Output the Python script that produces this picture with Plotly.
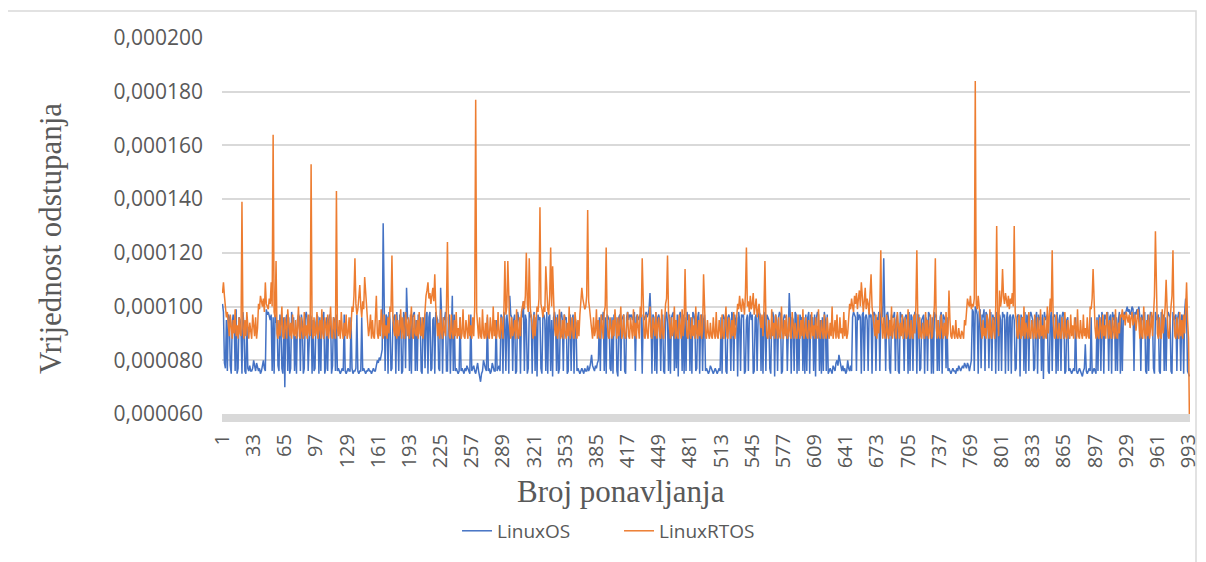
import plotly.graph_objects as go

# ---------------- data (values in microseconds) ----------------
linux_os_001 = [101, 98, 79, 77, 95, 76, 97, 96, 78, 75,
                94, 97, 95, 76, 99, 75, 77, 96, 95, 91,
                75, 98, 93, 76, 75, 96, 77, 76, 78, 76,
                76, 77, 80, 78, 76, 79, 77, 76, 77, 75,
                76, 78, 80, 77, 76, 99, 97, 98, 96, 95,
                97, 76, 96, 75, 97, 94, 95, 78, 76, 97,
                92, 77, 75, 96, 70, 95, 97, 76, 96, 75,
                77, 98, 95, 96, 76, 89, 75, 95, 97, 96,
                76, 97, 94, 75, 77, 96, 98, 95, 76, 93,
                97, 96, 75, 95, 76, 77, 94, 97, 96, 75]
linux_os_101 = [96, 76, 97, 95, 98, 75, 77, 96, 76, 95,
                97, 96, 75, 78, 96, 95, 76, 97, 76, 77,
                76, 75, 76, 77, 76, 97, 76, 75, 76, 77,
                76, 76, 96, 77, 75, 76, 76, 77, 97, 76,
                75, 76, 76, 96, 76, 77, 76, 75, 76, 76,
                77, 76, 76, 75, 76, 77, 76, 76, 78, 80,
                79, 81, 80, 82, 84, 131, 92, 76, 97, 96,
                75, 98, 95, 76, 77, 94, 96, 97, 75, 98,
                91, 76, 97, 96, 75, 76, 98, 96, 77, 107,
                96, 95, 76, 97, 75, 96, 97, 98, 76, 95]
linux_os_201 = [76, 97, 95, 96, 76, 75, 96, 94, 77, 97,
                98, 75, 96, 98, 76, 77, 95, 96, 75, 98,
                96, 95, 77, 76, 107, 97, 75, 96, 95, 98,
                76, 76, 96, 97, 75, 95, 104, 76, 97, 76,
                77, 76, 75, 76, 96, 76, 77, 76, 75, 77,
                76, 78, 77, 76, 75, 97, 76, 77, 78, 76,
                75, 77, 79, 76, 74, 72, 75, 76, 80, 78,
                77, 76, 96, 76, 77, 75, 76, 79, 77, 76,
                76, 95, 76, 77, 78, 76, 97, 96, 75, 98,
                95, 76, 97, 93, 75, 104, 97, 96, 76, 95]
linux_os_301 = [97, 75, 76, 98, 96, 94, 75, 97, 96, 102,
                76, 97, 95, 75, 77, 98, 96, 97, 75, 95,
                98, 76, 96, 74, 97, 95, 96, 77, 75, 96,
                97, 95, 76, 98, 75, 96, 97, 76, 95, 74,
                96, 98, 95, 76, 97, 75, 77, 96, 98, 95,
                76, 97, 95, 96, 75, 76, 96, 97, 76, 95,
                97, 75, 96, 94, 76, 77, 76, 75, 76, 77,
                76, 75, 77, 76, 76, 78, 76, 77, 79, 82,
                78, 77, 76, 78, 77, 79, 80, 96, 76, 97,
                95, 98, 76, 96, 75, 97, 96, 95, 77, 76]
linux_os_401 = [96, 75, 97, 95, 96, 76, 74, 96, 97, 76,
                95, 96, 97, 76, 75, 96, 98, 95, 97, 96,
                97, 95, 96, 98, 76, 96, 97, 95, 96, 97,
                96, 75, 97, 95, 96, 98, 96, 97, 99, 105,
                96, 75, 97, 96, 76, 98, 75, 96, 97, 95,
                76, 95, 97, 76, 75, 96, 98, 94, 76, 97,
                75, 96, 97, 98, 76, 95, 77, 97, 74, 96,
                98, 95, 76, 97, 75, 96, 76, 98, 95, 97,
                76, 96, 75, 98, 97, 95, 76, 77, 96, 98,
                75, 96, 97, 76, 95, 97, 76, 77, 76, 75]
linux_os_501 = [76, 78, 77, 76, 75, 76, 77, 76, 75, 76,
                77, 76, 96, 75, 97, 96, 95, 76, 75, 96,
                97, 95, 76, 98, 96, 76, 97, 93, 96, 74,
                98, 95, 76, 97, 96, 97, 75, 76, 95, 97,
                76, 96, 98, 95, 97, 75, 76, 96, 97, 76,
                95, 98, 97, 76, 96, 75, 95, 98, 76, 97,
                96, 95, 77, 75, 96, 98, 96, 74, 97, 95,
                76, 96, 98, 97, 75, 76, 95, 97, 96, 96,
                76, 98, 105, 97, 75, 96, 95, 76, 98, 97,
                75, 96, 76, 97, 95, 96, 76, 96, 75, 97]
linux_os_601 = [76, 96, 98, 75, 97, 95, 96, 76, 97, 74,
                96, 98, 97, 76, 95, 75, 96, 76, 98, 95,
                76, 97, 75, 76, 77, 76, 75, 78, 77, 76,
                79, 80, 78, 82, 80, 77, 76, 78, 76, 77,
                75, 76, 80, 77, 76, 78, 76, 96, 98, 97,
                96, 76, 98, 95, 97, 96, 75, 97, 98, 76,
                96, 97, 95, 76, 98, 96, 97, 75, 96, 98,
                97, 76, 96, 95, 98, 76, 97, 100, 96, 118,
                96, 76, 97, 98, 95, 77, 75, 97, 96, 96,
                98, 76, 95, 97, 76, 75, 98, 96, 97, 95]
linux_os_701 = [76, 96, 97, 95, 75, 98, 76, 97, 96, 76,
                95, 98, 97, 75, 96, 97, 76, 77, 95, 96,
                97, 75, 96, 95, 76, 98, 97, 96, 75, 96,
                75, 98, 96, 97, 76, 95, 76, 96, 98, 75,
                97, 96, 95, 77, 96, 76, 77, 76, 75, 76,
                77, 76, 76, 75, 77, 76, 78, 77, 76, 77,
                78, 77, 79, 78, 77, 79, 78, 76, 78, 80,
                99, 98, 76, 100, 99, 97, 75, 98, 99, 77,
                97, 96, 99, 76, 98, 97, 95, 77, 96, 98,
                76, 97, 95, 96, 75, 98, 96, 76, 97, 95]
linux_os_801 = [76, 98, 96, 97, 75, 95, 98, 76, 96, 97,
                75, 96, 97, 95, 76, 77, 96, 97, 96, 74,
                97, 95, 96, 76, 98, 75, 97, 95, 76, 96,
                98, 96, 95, 76, 77, 96, 98, 75, 97, 95,
                96, 76, 97, 73, 98, 95, 96, 97, 76, 75,
                95, 98, 76, 96, 97, 96, 75, 98, 76, 95,
                97, 76, 96, 98, 97, 75, 76, 95, 96, 76,
                77, 76, 75, 76, 77, 76, 96, 76, 75, 76,
                77, 76, 75, 74, 76, 77, 86, 76, 75, 76,
                77, 76, 96, 75, 76, 77, 76, 75, 96, 76]
linux_os_901 = [97, 95, 76, 98, 96, 75, 97, 96, 95, 98,
                76, 96, 97, 75, 98, 95, 97, 76, 96, 76,
                95, 98, 75, 97, 76, 96, 98, 97, 99, 100,
                98, 99, 97, 98, 100, 99, 76, 98, 97, 99,
                98, 100, 96, 76, 97, 95, 96, 98, 76, 75,
                97, 76, 95, 98, 97, 96, 77, 75, 98, 95,
                96, 97, 76, 75, 98, 95, 97, 76, 96, 76,
                95, 98, 97, 96, 76, 75, 98, 95, 96, 97,
                76, 96, 98, 95, 76, 97, 96, 75, 98, 103,
                96, 76, 75, 74]

linux_rtos_001 = [105, 109, 104, 100, 96, 98, 93, 89, 97, 92,
                  88, 95, 90, 99, 89, 93, 88, 96, 90, 89,
                  139, 92, 88, 95, 89, 98, 91, 88, 94, 90,
                  88, 97, 91, 89, 96, 88, 92, 101, 99, 104,
                  102, 100, 103, 98, 109, 101, 100, 99, 103, 101,
                  109, 100, 164, 98, 96, 117, 90, 88, 95, 89,
                  93, 100, 89, 88, 96, 90, 88, 99, 91, 89,
                  94, 88, 97, 90, 89, 95, 88, 92, 100, 89,
                  88, 96, 91, 88, 98, 89, 93, 88, 97, 90,
                  89, 153, 92, 88, 96, 89, 90, 98, 88, 91]
linux_rtos_101 = [95, 88, 99, 90, 88, 96, 91, 89, 97, 88,
                  93, 100, 89, 88, 96, 90, 88, 143, 92, 89,
                  95, 88, 98, 91, 88, 94, 89, 97, 88, 90,
                  96, 88, 92, 100, 98, 104, 118, 101, 97, 99,
                  103, 108, 100, 96, 102, 99, 111, 105, 98, 94,
                  89, 92, 97, 88, 95, 89, 88, 96, 104, 90,
                  88, 95, 89, 99, 91, 88, 97, 89, 93, 88,
                  96, 90, 100, 98, 119, 96, 91, 89, 97, 88,
                  95, 89, 92, 99, 88, 96, 90, 88, 98, 91,
                  89, 96, 88, 94, 100, 89, 88, 97, 90, 89]
linux_rtos_201 = [95, 88, 98, 90, 89, 96, 88, 93, 100, 104,
                  106, 109, 103, 105, 101, 104, 107, 102, 112, 100,
                  96, 89, 94, 88, 99, 90, 88, 96, 91, 89,
                  100, 124, 95, 89, 88, 97, 90, 88, 95, 89,
                  98, 88, 92, 89, 96, 88, 90, 99, 89, 88,
                  95, 90, 88, 97, 89, 93, 88, 96, 89, 100,
                  177, 98, 91, 88, 96, 89, 88, 99, 90, 88,
                  94, 88, 97, 89, 88, 96, 91, 88, 100, 89,
                  95, 88, 90, 98, 89, 88, 96, 90, 88, 99,
                  117, 97, 100, 117, 98, 92, 88, 96, 89, 91]
linux_rtos_301 = [95, 88, 99, 90, 88, 96, 89, 98, 100, 102,
                  99, 104, 120, 101, 98, 118, 100, 96, 91, 88,
                  97, 89, 95, 100, 98, 103, 137, 101, 99, 96,
                  100, 98, 115, 102, 99, 97, 104, 122, 100, 115,
                  98, 92, 89, 96, 88, 91, 99, 88, 89, 95,
                  88, 97, 90, 88, 94, 89, 100, 88, 91, 96,
                  89, 88, 98, 90, 88, 95, 89, 97, 101, 107,
                  103, 101, 99, 100, 104, 136, 102, 99, 95, 90,
                  88, 96, 89, 91, 99, 88, 95, 89, 88, 97,
                  90, 88, 98, 100, 122, 95, 89, 88, 96, 90]
linux_rtos_401 = [88, 95, 89, 99, 91, 88, 96, 89, 93, 100,
                  88, 90, 97, 89, 88, 95, 98, 89, 88, 96,
                  91, 88, 99, 89, 94, 88, 97, 90, 88, 100,
                  96, 118, 95, 89, 88, 97, 90, 88, 95, 100,
                  89, 88, 96, 91, 89, 98, 88, 93, 96, 89,
                  88, 99, 90, 88, 97, 101, 103, 119, 98, 92,
                  88, 96, 89, 91, 100, 88, 95, 89, 88, 97,
                  90, 88, 99, 89, 94, 114, 96, 89, 88, 97,
                  90, 88, 96, 89, 93, 88, 100, 90, 88, 95,
                  89, 97, 88, 91, 112, 96, 89, 88, 95, 90]
linux_rtos_501 = [88, 94, 89, 88, 96, 90, 88, 98, 89, 88,
                  95, 91, 88, 97, 89, 88, 93, 100, 89, 88,
                  96, 90, 88, 95, 89, 98, 88, 91, 96, 101,
                  99, 104, 100, 98, 103, 101, 97, 105, 122, 100,
                  102, 98, 104, 99, 101, 105, 97, 100, 103, 96,
                  98, 101, 95, 92, 97, 89, 99, 117, 96, 89,
                  88, 95, 90, 88, 99, 89, 94, 88, 97, 90,
                  88, 96, 89, 88, 100, 91, 88, 95, 89, 97,
                  88, 90, 96, 89, 88, 98, 90, 88, 94, 89,
                  88, 97, 91, 88, 95, 89, 99, 88, 90, 96]
linux_rtos_601 = [89, 88, 95, 90, 88, 98, 89, 93, 88, 96,
                  90, 88, 99, 89, 88, 95, 91, 88, 97, 89,
                  88, 96, 90, 88, 94, 89, 100, 88, 91, 95,
                  88, 97, 89, 88, 96, 90, 92, 88, 98, 89,
                  95, 88, 90, 97, 101, 99, 103, 100, 98, 104,
                  101, 105, 99, 103, 106, 100, 109, 104, 98, 102,
                  107, 99, 103, 101, 97, 105, 112, 100, 96, 92,
                  89, 97, 88, 95, 90, 99, 121, 94, 88, 96,
                  89, 88, 97, 90, 88, 95, 89, 100, 88, 92,
                  96, 89, 88, 98, 90, 88, 94, 89, 97, 88]
linux_rtos_701 = [91, 96, 88, 89, 99, 90, 88, 95, 89, 88,
                  97, 90, 100, 121, 95, 88, 96, 89, 88, 94,
                  90, 88, 98, 89, 95, 88, 91, 97, 88, 89,
                  96, 100, 118, 92, 88, 95, 89, 88, 97, 90,
                  88, 94, 89, 98, 88, 90, 106, 95, 89, 88,
                  93, 90, 88, 95, 89, 88, 92, 89, 88, 91,
                  90, 88, 95, 93, 98, 103, 101, 100, 104, 99,
                  101, 100, 103, 184, 101, 99, 104, 100, 96, 90,
                  88, 95, 89, 92, 88, 97, 90, 88, 99, 89,
                  88, 96, 91, 88, 100, 130, 96, 89, 106, 100]
linux_rtos_801 = [103, 114, 104, 101, 105, 102, 100, 104, 99, 103,
                  101, 105, 100, 130, 98, 95, 89, 88, 97, 90,
                  88, 96, 89, 100, 88, 94, 90, 88, 98, 89,
                  88, 95, 91, 88, 97, 89, 88, 96, 90, 88,
                  99, 89, 93, 88, 96, 89, 88, 100, 90, 96,
                  103, 98, 121, 95, 89, 88, 97, 90, 88, 94,
                  89, 88, 96, 91, 88, 98, 89, 88, 95, 90,
                  88, 97, 89, 93, 88, 96, 90, 88, 99, 89,
                  88, 95, 90, 88, 97, 89, 92, 88, 96, 89,
                  88, 100, 99, 103, 114, 98, 92, 88, 95, 89]
linux_rtos_901 = [88, 96, 90, 88, 97, 89, 93, 88, 98, 90,
                  88, 95, 89, 88, 96, 91, 88, 99, 89, 88,
                  94, 90, 97, 96, 99, 95, 97, 93, 98, 96,
                  94, 97, 92, 96, 98, 93, 95, 97, 91, 96,
                  99, 94, 88, 96, 89, 88, 100, 90, 88, 95,
                  89, 97, 88, 92, 98, 89, 100, 104, 128, 98,
                  90, 88, 96, 89, 88, 99, 90, 95, 100, 110,
                  95, 89, 88, 97, 100, 104, 121, 96, 89, 88,
                  96, 90, 88, 98, 89, 95, 88, 97, 90, 99,
                  109, 95, 88, 55]

x_tick_labels = ["1", "33", "65", "97", "129", "161", "193", "225", "257", "289",
                 "321", "353", "385", "417", "449", "481", "513", "545", "577", "609",
                 "641", "673", "705", "737", "769", "801", "833", "865", "897", "929",
                 "961", "993"]
y_tick_values = [0.00006, 0.00008, 0.00010, 0.00012, 0.00014, 0.00016, 0.00018, 0.00020]
y_tick_labels = ["0,000060", "0,000080", "0,000100", "0,000120",
                 "0,000140", "0,000160", "0,000180", "0,000200"]
series_names = ["LinuxOS", "LinuxRTOS"]
x_title = "Broj ponavljanja"
y_title = "Vrijednost odstupanja"

# ---------------- assemble ----------------
os_us = (linux_os_001 + linux_os_101 + linux_os_201 + linux_os_301 + linux_os_401 +
         linux_os_501 + linux_os_601 + linux_os_701 + linux_os_801 + linux_os_901)
rtos_us = (linux_rtos_001 + linux_rtos_101 + linux_rtos_201 + linux_rtos_301 + linux_rtos_401 +
           linux_rtos_501 + linux_rtos_601 + linux_rtos_701 + linux_rtos_801 + linux_rtos_901)
n = min(len(os_us), len(rtos_us))
os_vals = [v * 1e-6 for v in os_us[:n]]
rtos_vals = [v * 1e-6 for v in rtos_us[:n]]
iterations = list(range(1, n + 1))
x_tick_vals = [int(t) for t in x_tick_labels]

BLUE = "#4472C4"
ORANGE = "#ED7D31"
GRID = "#D9D9D9"
TXT = "#595959"

fig = go.Figure()
fig.add_trace(go.Scatter(x=iterations, y=os_vals, mode="lines", name=series_names[0],
                         line=dict(color=BLUE, width=1.5)))
fig.add_trace(go.Scatter(x=iterations, y=rtos_vals, mode="lines", name=series_names[1],
                         line=dict(color=ORANGE, width=1.5)))

# the page body adds an 8px offset, so the figure is placed to compensate
fig.update_layout(
    width=1198, height=554,
    margin=dict(l=214, r=16, t=30, b=148, autoexpand=False),
    paper_bgcolor="white", plot_bgcolor="white",
    font=dict(family="Open Sans", color=TXT, size=20),
    showlegend=True,
    legend=dict(orientation="h", x=0.2428, y=-0.311, xanchor="left", yanchor="middle",
                font=dict(family="Open Sans", size=19, color=TXT),
                entrywidth=117, entrywidthmode="pixels",
                bgcolor="rgba(0,0,0,0)"),
    xaxis=dict(range=[0.5, n + 0.5], tickmode="array", tickvals=x_tick_vals,
               ticktext=x_tick_labels, tickangle=-90, showgrid=False, zeroline=False,
               showline=True, linecolor=GRID, linewidth=8, ticks="",
               tickfont=dict(family="Open Sans", size=20, color=TXT),
               ticklabelstandoff=4, ticklabeloverflow="allow"),
    yaxis=dict(range=[0.00006, 0.00020], tickmode="array", tickvals=y_tick_values,
               ticktext=y_tick_labels, showgrid=True, gridcolor=GRID, gridwidth=2,
               zeroline=False, showline=False, ticks="",
               tickfont=dict(family="Open Sans", size=21, color=TXT),
               ticklabelstandoff=18),
    annotations=[
        dict(text=x_title, xref="paper", yref="paper", x=0.4127, y=-0.2074,
             xanchor="center", yanchor="middle", showarrow=False,
             font=dict(family="Liberation Serif", size=31, color=TXT)),
        dict(text=y_title, xref="paper", yref="paper", x=-0.1777, y=0.468,
             xanchor="center", yanchor="middle", showarrow=False, textangle=-90,
             font=dict(family="Liberation Serif", size=31, color=TXT)),
    ],
    shapes=[dict(type="rect", xref="paper", yref="paper", x0=-0.2221, x1=1.0062,
                 y0=-0.45, y1=1.0718, line=dict(color=GRID, width=1.5),
                 fillcolor="rgba(0,0,0,0)", layer="below")],
)

fig.write_html("out.html")
